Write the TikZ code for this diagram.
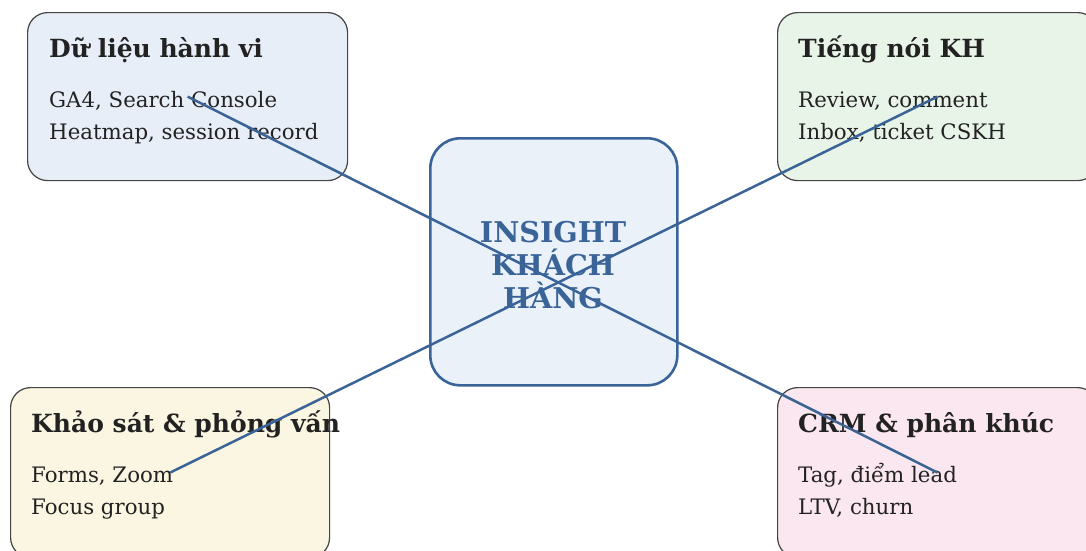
\documentclass[tikz,border=0pt]{standalone}
\usepackage{fontspec}
\setmainfont{DejaVu Serif}
\definecolor{edgeblue}{HTML}{3A6498}
\definecolor{boxline}{HTML}{444444}
\definecolor{txt}{HTML}{222222}
\definecolor{fillA}{HTML}{E8EEF7}
\definecolor{fillB}{HTML}{E9F4E9}
\definecolor{fillC}{HTML}{FBF6E1}
\definecolor{fillD}{HTML}{FBE7EF}
\definecolor{fillCenter}{HTML}{EAF1F9}
\begin{document}
\begin{tikzpicture}[x=1pt,y=-1pt,
  srcbox/.style={draw=boxline, line width=1.2pt, rounded corners=20pt, minimum width=320pt, minimum height=168pt, inner sep=0pt, anchor=north west},
  hub/.style={draw=edgeblue, line width=2.6pt, rounded corners=30pt, fill=fillCenter, minimum width=247pt, minimum height=247pt, inner sep=0pt, anchor=north west},
  head/.style={anchor=base west, inner sep=0pt, font=\fontsize{25}{29}\selectfont\bfseries, text=txt},
  body/.style={anchor=base west, inner sep=0pt, font=\fontsize{21.3}{25}\selectfont, text=txt},
  hubtext/.style={anchor=base, inner sep=0pt, font=\fontsize{28.6}{33}\selectfont\bfseries, text=edgeblue},
  link/.style={draw=edgeblue, line width=2.5pt}
]
\useasboundingbox (0,0) rectangle (1086,550);
\clip (0,0) rectangle (1086,550);
\node[srcbox, fill=fillA] (tl) at (27,12) {};
\node[srcbox, fill=fillB] (tr) at (777,12) {};
\node[srcbox, fill=fillC, minimum width=319pt, minimum height=170pt] (bl) at (10,387) {};
\node[srcbox, fill=fillD, minimum height=170pt] (br) at (777,387) {};
\node[hub] (hub) at (429,137) {};

\node[head] (tlh) at (49,57) {Dữ liệu hành vi};
\node[body] (tlb1) at (49,107) {GA4, Search Console};
\node[body] (tlb2) at (49,139) {Heatmap, session record};

\node[head] (trh) at (798,57) {Tiếng nói KH};
\node[body] (trb1) at (798,107) {Review, comment};
\node[body] (trb2) at (798,139) {Inbox, ticket CSKH};

\node[head] (blh) at (31,432) {Khảo sát \& phỏng vấn};
\node[body] (blb1) at (31,482) {Forms, Zoom};
\node[body] (blb2) at (31,514) {Focus group};

\node[head] (brh) at (798,432) {CRM \& phân khúc};
\node[body] (brb1) at (798,482) {Tag, điểm lead};
\node[body] (brb2) at (798,514) {LTV, churn};

\node[hubtext] (h1) at (553,242) {INSIGHT};
\node[hubtext] (h2) at (553,275) {KHÁCH};
\node[hubtext] (h3) at (553,308) {HÀNG};

\draw[link] (tl.center) -- (br.center);
\draw[link] (bl.center) -- (tr.center);
\end{tikzpicture}
\end{document}
